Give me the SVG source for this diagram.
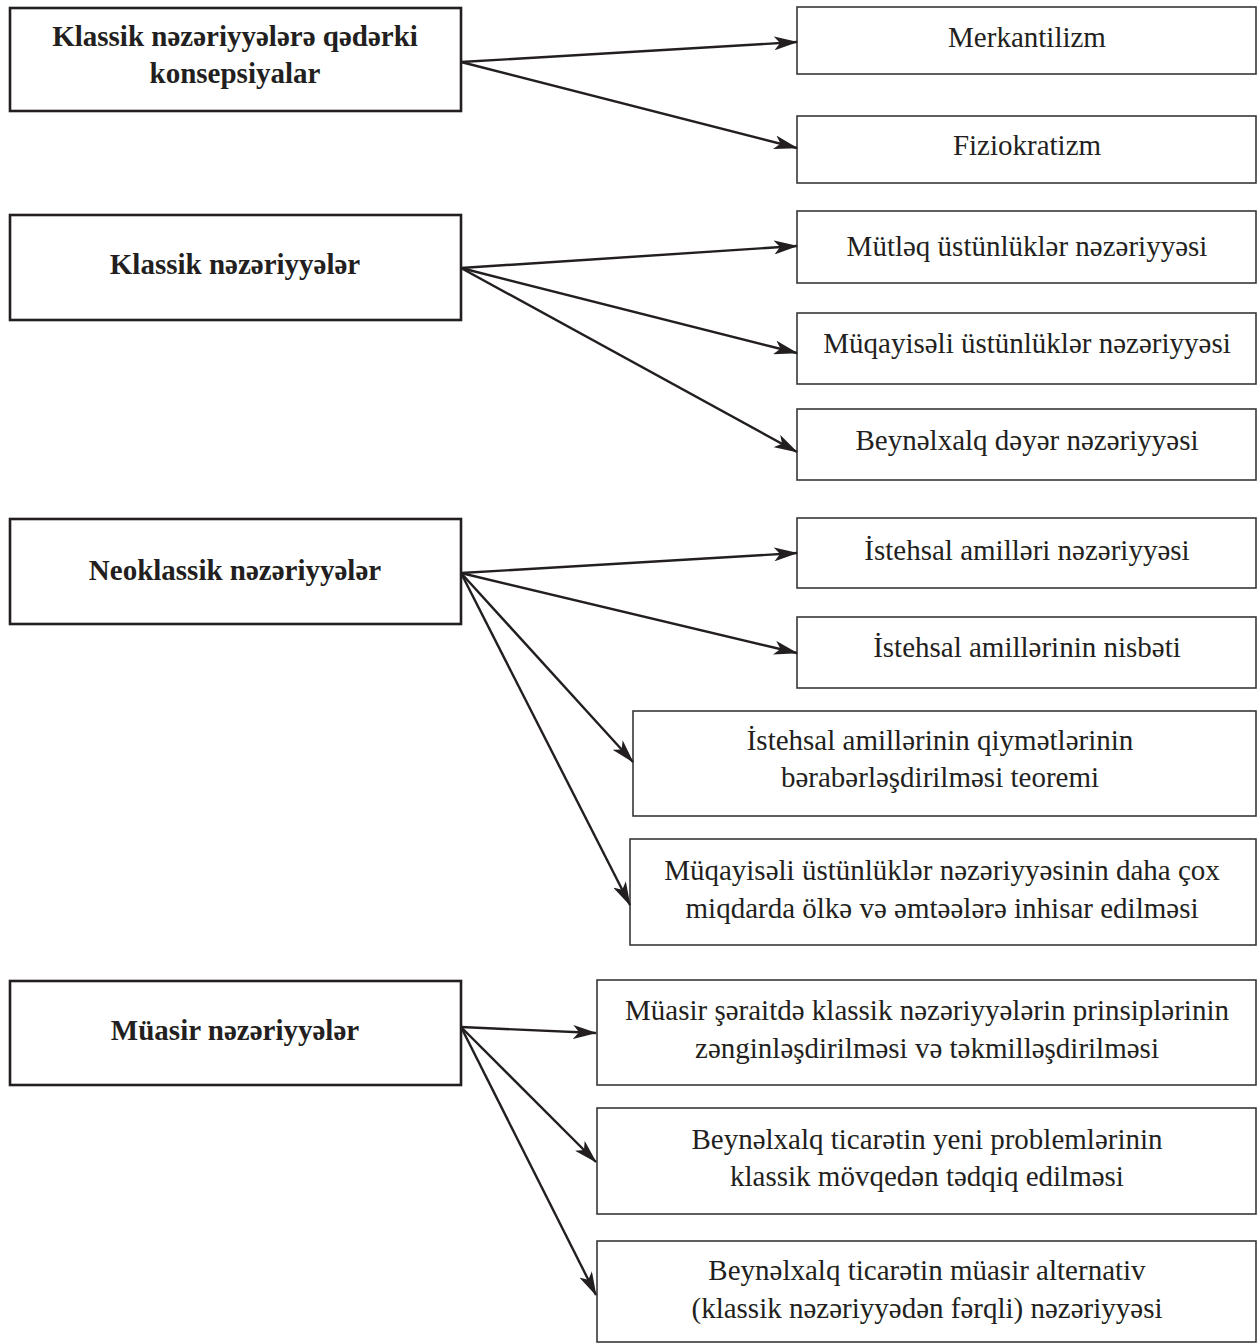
<svg xmlns="http://www.w3.org/2000/svg" width="1259" height="1344" viewBox="0 0 1259 1344">
<style>
  .main rect { fill: #fff; stroke: #231f20; stroke-width: 2.6; }
  .sub rect { fill: #fff; stroke: #3a3637; stroke-width: 1.6; }
  text { font-family: "Liberation Serif", "Times New Roman", serif; font-size: 29px; fill: #231f20; text-anchor: middle; }
  .main text { font-weight: bold; }
  #connectors line { stroke: #231f20; stroke-width: 2.4; fill: none; marker-end: url(#arr); }
</style>
<defs>
  <marker id="arr" viewBox="0 0 24 14" refX="23" refY="7" markerWidth="24" markerHeight="14" markerUnits="userSpaceOnUse" orient="auto">
    <path d="M0,0 L24,7 L0,14 L6,7 Z" fill="#231f20"/>
  </marker>
</defs>
<rect width="1259" height="1344" fill="#fff"/>

<g id="n-prec" class="main"><rect x="10" y="8" width="451" height="103"/><text x="235" y="46">Klassik nəzəriyyələrə qədərki</text><text x="235" y="83">konsepsiyalar</text></g>
<g id="n-classic" class="main"><rect x="10" y="215" width="451" height="105"/><text x="235" y="274">Klassik nəzəriyyələr</text></g>
<g id="n-neo" class="main"><rect x="10" y="519" width="451" height="105"/><text x="235" y="580">Neoklassik nəzəriyyələr</text></g>
<g id="n-modern" class="main"><rect x="10" y="981" width="451" height="104"/><text x="235" y="1040">Müasir nəzəriyyələr</text></g>

<g id="n-merk" class="sub"><rect x="797" y="7" width="459" height="67"/><text x="1027" y="47">Merkantilizm</text></g>
<g id="n-fizio" class="sub"><rect x="797" y="116" width="459" height="67"/><text x="1027" y="155">Fiziokratizm</text></g>
<g id="n-mutleq" class="sub"><rect x="797" y="211" width="459" height="72"/><text x="1027" y="256">Mütləq üstünlüklər nəzəriyyəsi</text></g>
<g id="n-muqayiseli" class="sub"><rect x="797" y="313" width="459" height="71"/><text x="1027" y="353">Müqayisəli üstünlüklər nəzəriyyəsi</text></g>
<g id="n-deyer" class="sub"><rect x="797" y="409" width="459" height="71"/><text x="1027" y="450">Beynəlxalq dəyər nəzəriyyəsi</text></g>
<g id="n-amiller" class="sub"><rect x="797" y="518" width="459" height="70"/><text x="1027" y="560">İstehsal amilləri nəzəriyyəsi</text></g>
<g id="n-nisbet" class="sub"><rect x="797" y="617" width="459" height="71"/><text x="1027" y="657">İstehsal amillərinin nisbəti</text></g>
<g id="n-teorem" class="sub"><rect x="633" y="711" width="623" height="105"/><text x="940" y="750">İstehsal amillərinin qiymətlərinin</text><text x="940" y="787">bərabərləşdirilməsi teoremi</text></g>
<g id="n-inhisar" class="sub"><rect x="630" y="839" width="626" height="106"/><text x="942" y="880">Müqayisəli üstünlüklər nəzəriyyəsinin daha çox</text><text x="942" y="918">miqdarda ölkə və əmtəələrə inhisar edilməsi</text></g>
<g id="n-zengin" class="sub"><rect x="597" y="980" width="659" height="105"/><text x="927" y="1020">Müasir şəraitdə klassik nəzəriyyələrin prinsiplərinin</text><text x="927" y="1058">zənginləşdirilməsi və təkmilləşdirilməsi</text></g>
<g id="n-yeni" class="sub"><rect x="597" y="1108" width="659" height="106"/><text x="927" y="1149">Beynəlxalq ticarətin yeni problemlərinin</text><text x="927" y="1186">klassik mövqedən tədqiq edilməsi</text></g>
<g id="n-alternativ" class="sub"><rect x="597" y="1241" width="659" height="101"/><text x="927" y="1280">Beynəlxalq ticarətin müasir alternativ</text><text x="927" y="1318">(klassik nəzəriyyədən fərqli) nəzəriyyəsi</text></g>

<g id="connectors">
  <line x1="461" y1="62" x2="797" y2="42"/>
  <line x1="461" y1="62" x2="797" y2="148"/>
  <line x1="461" y1="268" x2="797" y2="246"/>
  <line x1="461" y1="268" x2="797" y2="353"/>
  <line x1="461" y1="268" x2="797" y2="452"/>
  <line x1="461" y1="573" x2="797" y2="553"/>
  <line x1="461" y1="573" x2="797" y2="653"/>
  <line x1="461" y1="573" x2="633" y2="762"/>
  <line x1="461" y1="573" x2="630" y2="905"/>
  <line x1="461" y1="1027" x2="596" y2="1033"/>
  <line x1="461" y1="1027" x2="596" y2="1162"/>
  <line x1="461" y1="1027" x2="596" y2="1295"/>
</g>
</svg>
